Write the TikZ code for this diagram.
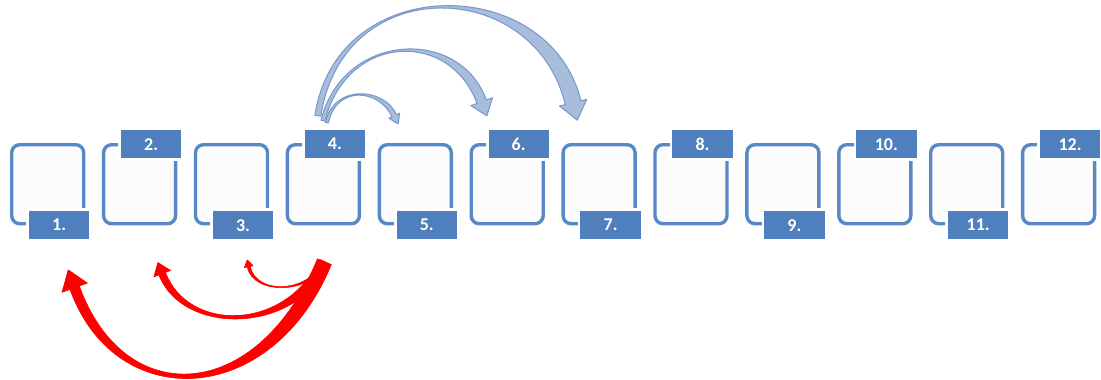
\documentclass[tikz,border=0pt]{standalone}
\usepackage{fontspec}
\setmainfont{Carlito}
\usetikzlibrary{calc}
\definecolor{frameblue}{RGB}{88,137,198}
\definecolor{labblue}{RGB}{79,128,189}
\definecolor{arrfill}{RGB}{168,189,219}
\definecolor{arrline}{RGB}{118,152,202}
\definecolor{arrred}{RGB}{255,0,0}
% #1 style, #2 start, #3 ctrl1, #4 ctrl2, #5 head base, #6 half width start, #7 half width end, #8 half head width, #9 head length
\newcommand\taperarrow[9]{%
  \path[#1] ($(#2)!#6!90:(#3)$) .. controls ($(#3)!#6!-90:(#2)$) and ($(#4)!#7!90:(#5)$) .. ($(#5)!#7!-90:(#4)$)
    -- ($(#5)!#8!-90:(#4)$) -- ($(#5)!-#9!(#4)$) -- ($(#5)!#8!90:(#4)$) -- ($(#5)!#7!90:(#4)$)
    .. controls ($(#4)!#7!-90:(#5)$) and ($(#3)!#6!90:(#2)$) .. ($(#2)!#6!-90:(#3)$) -- cycle;}
\tikzset{
  boxst/.style={draw=frameblue, fill=black!1, line width=3.4pt, rounded corners=8pt,
    minimum width=72pt, minimum height=79pt, inner sep=0pt, outer sep=0pt, anchor=north west},
  labst/.style={fill=labblue, draw=white, line width=2.6pt, text=white,
    minimum width=63pt, minimum height=31pt, inner sep=0pt, outer sep=0pt, anchor=north west,
    font=\bfseries\fontsize{18}{18}\selectfont},
  bluearrow/.style={fill=arrfill, draw=arrline, line width=1pt, line join=round},
  redarrow/.style={fill=arrred, draw=arrred, line width=0.6pt, line join=round}
}
\begin{document}
\begin{tikzpicture}[x=1pt, y=-1pt]
\useasboundingbox[fill=white] (0,0) rectangle (1101,380);
\foreach \i in {1,...,12}{
  \pgfmathsetmacro{\bx}{10+91.9*(\i-1)}
  \node[boxst] (b\i) at (\bx+1.7,144.7) {};
  \pgfmathtruncatemacro{\odd}{mod(\i,2)}
  \ifnum\odd=1
    \node[labst] (l\i) at (\bx+17.7,209.7) {\i.};
  \else
    \node[labst] (l\i) at (\bx+17.7,128.7) {\i.};
  \fi
}
% blue arrows from 4
\coordinate (aS) at ($(l4.north)+(-8,-6)$);
\coordinate (aE) at ($(b5.north west)+(15,-29)$);
\coordinate (aC1) at ($(aS)+(8,-38)$);
\coordinate (aC2) at ($(aE)+(-13,-28)$);
\taperarrow{bluearrow}{aS}{aC1}{aC2}{aE}{1.5pt}{2.5pt}{6pt}{9pt}
\coordinate (bS) at ($(l4.north)+(-12,-8)$);
\coordinate (bE) at ($(l6.north)+(-37,-27)$);
\coordinate (bC1) at ($(bS)+(22,-88)$);
\coordinate (bC2) at ($(bE)+(-27,-74)$);
\taperarrow{bluearrow}{bS}{bC1}{bC2}{bE}{2pt}{5pt}{11.5pt}{15pt}
\coordinate (cS) at ($(l4.north)+(-17,-13)$);
\coordinate (cE) at ($(b7.north west)+(10,-42)$);
\coordinate (cC1) at ($(cS)+(22,-145)$);
\coordinate (cC2) at ($(cE)+(-31,-128)$);
\taperarrow{bluearrow}{cS}{cC1}{cC2}{cE}{3pt}{8pt}{14pt}{18pt}
% red arrows from below 4
\coordinate (rS) at ($(b4.south)+(1,38)$);
\coordinate (r1E) at ($(l1.south)+(15.5,47)$);
\coordinate (r1C1) at ($(rS)+(-60,145)$);
\coordinate (r1C2) at ($(r1E)+(45,125)$);
\taperarrow{redarrow}{rS}{r1C1}{r1C2}{r1E}{7.5pt}{5pt}{13.5pt}{19pt}
\coordinate (r2E) at ($(b2.south)+(22.6,50)$);
\coordinate (r2C1) at ($(rS)+(-35,72)$);
\coordinate (r2C2) at ($(r2E)+(23,60)$);
\taperarrow{redarrow}{rS}{r2C1}{r2C2}{r2E}{5pt}{3.5pt}{9pt}{12pt}
\coordinate (r3E) at ($(l3.south)+(5.7,26)$);
\coordinate (r3C1) at ($(rS)+(-13,32)$);
\coordinate (r3C2) at ($(r3E)+(6,29)$);
\taperarrow{redarrow}{rS}{r3C1}{r3C2}{r3E}{2pt}{1.5pt}{4.5pt}{7pt}
\end{tikzpicture}
\end{document}
